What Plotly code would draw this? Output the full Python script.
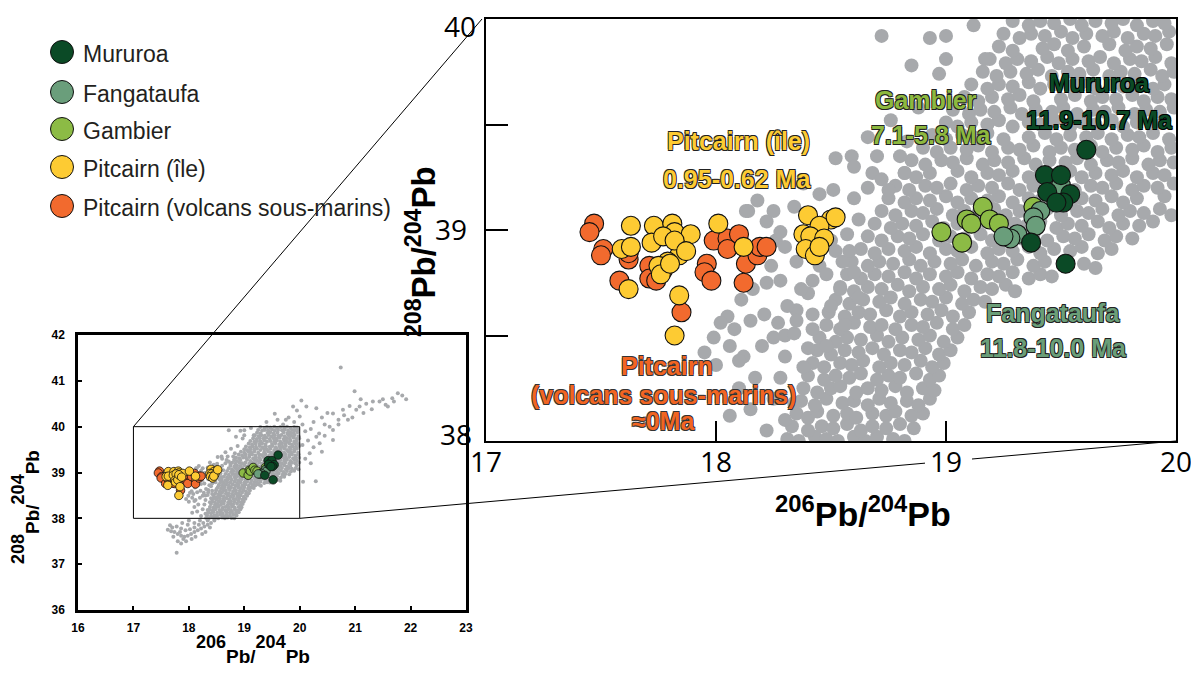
import plotly.graph_objects as go

# The page body has an 8px margin: the figure is drawn 8px smaller and all
# pixel positions below are given in screenshot pixels.
OFF = 8
W, H = 1199 - OFF, 674 - OFF

# ---------------- data ----------------
group_names = ["Mururoa", "Fangataufa", "Gambier", "Pitcairn (île)", "Pitcairn (volcans sous-marins)"]
group_colors = ["#0B4A26", "#6A9E7B", "#8CBB45", "#FDCB33", "#F26A2E"]

mururoa_x = [19.61, 19.43, 19.50, 19.44, 19.54, 19.51, 19.48, 19.37, 19.52]
mururoa_y = [39.38, 39.26, 39.26, 39.18, 39.17, 39.13, 39.13, 38.94, 38.84]

fanga_x = [19.50, 19.41, 19.38, 19.39, 19.31, 19.28, 19.25]
fanga_y = [39.21, 39.09, 39.06, 39.02, 38.98, 38.96, 38.97]

gambier_x = [18.98, 19.07, 19.09, 19.11, 19.16, 19.19, 19.23, 19.38]
gambier_y = [38.99, 38.94, 39.05, 39.03, 39.11, 39.05, 39.03, 39.11]

ile_x = [17.63, 17.59, 17.63, 17.62, 17.73, 17.72, 17.81, 17.82, 17.77, 17.85, 17.89, 17.84,
         17.79, 17.75, 17.76, 17.80, 17.82, 17.87, 18.01, 18.12, 17.84, 17.82, 18.40, 18.50,
         18.45, 18.38, 18.41, 18.47, 18.39, 18.43, 18.45, 18.52]
ile_y = [39.02, 38.91, 38.92, 38.72, 39.02, 38.94, 39.03, 38.99, 38.97, 38.92, 38.98, 38.88,
         38.85, 38.83, 38.79, 38.84, 38.95, 38.90, 39.03, 38.92, 38.69, 38.50, 39.07, 39.05,
         39.02, 38.98, 38.97, 38.96, 38.91, 38.88, 38.92, 39.06]

volc_x = [17.47, 17.45, 17.51, 17.50, 17.58, 17.62, 17.71, 17.71, 17.77, 17.96, 17.95, 17.98,
          17.99, 18.05, 18.05, 18.10, 18.13, 18.12, 18.18, 18.19, 18.22, 17.85, 17.62, 17.74]
volc_y = [39.03, 38.99, 38.91, 38.88, 38.76, 38.86, 38.83, 38.77, 38.81, 38.84, 38.80, 38.76,
          38.95, 38.96, 38.91, 38.98, 38.84, 38.75, 38.88, 38.92, 38.92, 38.61, 38.89, 38.76]

# background (grey) compilation of oceanic basalts
gray_points = [
    (18.31,38.01),(18.36,38.0),(18.43,38.02),(18.48,38.01),(18.53,38.0),(18.60,38.02),(18.65,38.0),(18.70,38.02),(18.77,38.01),(18.82,38.0),
    (18.33,38.07),(18.40,38.05),(18.46,38.07),(18.51,38.06),(18.57,38.08),(18.63,38.05),(18.68,38.07),(18.74,38.06),(18.80,38.08),(18.86,38.06),
    (18.35,38.13),(18.40,38.11),(18.44,38.14),(18.51,38.12),(18.57,38.13),(18.61,38.11),(18.68,38.13),(18.74,38.12),(18.78,38.14),(18.85,38.12),(18.90,38.13),
    (18.37,38.19),(18.43,38.17),(18.48,38.2),(18.55,38.18),(18.60,38.19),(18.66,38.17),(18.71,38.2),(18.76,38.18),(18.83,38.19),(18.88,38.17),(18.93,38.2),
    (18.38,38.25),(18.44,38.23),(18.50,38.25),(18.54,38.26),(18.61,38.23),(18.66,38.25),(18.72,38.24),(18.78,38.26),(18.83,38.23),(18.90,38.25),(18.95,38.24),
    (18.40,38.31),(18.47,38.29),(18.52,38.31),(18.58,38.3),(18.63,38.32),(18.70,38.29),(18.75,38.31),(18.80,38.3),(18.87,38.32),(18.93,38.29),(18.97,38.31),
    (18.42,38.37),(18.47,38.35),(18.54,38.37),(18.59,38.36),(18.64,38.38),(18.71,38.35),(18.76,38.37),(18.82,38.36),(18.89,38.38),(18.94,38.35),(18.99,38.37),
    (18.44,38.43),(18.50,38.41),(18.56,38.43),(18.62,38.42),(18.68,38.44),(18.73,38.41),(18.80,38.43),(18.85,38.42),(18.91,38.44),(18.97,38.41),(19.02,38.43),
    (18.45,38.49),(18.52,38.47),(18.57,38.49),(18.63,38.48),(18.70,38.5),(18.75,38.47),(18.81,38.49),(18.88,38.48),(18.93,38.5),(18.99,38.47),(19.05,38.49),
    (18.48,38.55),(18.54,38.53),(18.60,38.56),(18.67,38.54),(18.72,38.55),(18.78,38.53),(18.85,38.55),(18.90,38.54),(18.96,38.56),(19.03,38.53),(19.08,38.55),
    (18.49,38.61),(18.56,38.59),(18.62,38.61),(18.67,38.6),(18.74,38.62),(18.80,38.59),(18.85,38.61),(18.92,38.6),(18.98,38.62),(19.03,38.59),(19.10,38.61),
    (18.52,38.67),(18.58,38.65),(18.64,38.67),(18.71,38.66),(18.76,38.68),(18.82,38.65),(18.89,38.67),(18.94,38.66),(19.00,38.68),(19.07,38.65),(19.12,38.67),(19.17,38.66),
    (18.54,38.73),(18.60,38.71),(18.66,38.73),(18.72,38.72),(18.79,38.74),(18.84,38.71),(18.90,38.73),(18.97,38.72),(19.02,38.74),(19.08,38.71),(19.15,38.73),(19.20,38.72),(19.26,38.74),(19.30,38.71),
    (18.57,38.79),(18.63,38.77),(18.69,38.79),(18.75,38.78),(18.82,38.8),(18.87,38.77),(18.93,38.79),(19.00,38.78),(19.05,38.8),(19.11,38.77),(19.18,38.79),(19.23,38.78),(19.29,38.8),(19.36,38.77),(19.41,38.79),(19.46,38.78),
    (18.59,38.85),(18.66,38.83),(18.71,38.85),(18.77,38.84),(18.84,38.86),(18.89,38.83),(18.95,38.85),(19.02,38.84),(19.07,38.86),(19.13,38.83),(19.20,38.85),(19.25,38.84),(19.31,38.86),(19.38,38.83),(19.43,38.85),(19.60,38.84),(19.65,38.82),
    (18.63,38.91),(18.69,38.89),(18.75,38.91),(18.82,38.9),(18.87,38.92),(18.93,38.89),(19.00,38.91),(19.05,38.9),(19.11,38.92),(19.18,38.89),(19.23,38.91),(19.29,38.9),(19.36,38.92),(19.41,38.89),(19.47,38.91),(19.54,38.9),(19.59,38.92),(19.66,38.89),(19.72,38.91),
    (18.66,38.97),(18.72,38.95),(18.79,38.97),(18.84,38.96),(18.90,38.98),(18.97,38.95),(19.02,38.97),(19.08,38.96),(19.15,38.98),(19.20,38.95),(19.26,38.97),(19.33,38.96),(19.38,38.98),(19.44,38.95),(19.51,38.97),(19.56,38.96),(19.62,38.98),(19.69,38.95),(19.74,38.97),(19.81,38.96),
    (18.69,39.03),(18.76,39.01),(18.81,39.03),(18.87,39.02),(18.94,39.04),(18.99,39.01),(19.05,39.03),(19.12,39.02),(19.17,39.04),(19.23,39.01),(19.30,39.03),(19.35,39.02),(19.41,39.04),(19.48,39.01),(19.53,39.03),(19.59,39.02),(19.66,39.04),(19.71,39.01),(19.77,39.03),(19.84,39.02),(19.90,39.04),
    (18.72,39.09),(18.78,39.07),(18.85,39.09),(18.90,39.08),(18.96,39.1),(19.03,39.07),(19.08,39.09),(19.14,39.08),(19.21,39.1),(19.26,39.07),(19.32,39.09),(19.39,39.08),(19.44,39.1),(19.50,39.07),(19.57,39.09),(19.62,39.08),(19.68,39.1),(19.75,39.07),(19.80,39.09),(19.86,39.08),(19.93,39.1),(19.98,39.07),
    (18.75,39.15),(18.82,39.13),(18.87,39.15),(18.93,39.14),(19.00,39.16),(19.05,39.13),(19.11,39.15),(19.18,39.14),(19.23,39.16),(19.29,39.13),(19.36,39.15),(19.41,39.14),(19.47,39.16),(19.54,39.13),(19.59,39.15),(19.65,39.14),(19.72,39.16),(19.77,39.13),(19.83,39.15),(19.95,39.16),
    (18.78,39.21),(18.84,39.19),(18.91,39.21),(18.96,39.2),(19.02,39.22),(19.09,39.19),(19.14,39.21),(19.20,39.2),(19.27,39.22),(19.32,39.19),(19.38,39.21),(19.45,39.2),(19.50,39.22),(19.56,39.19),(19.63,39.21),(19.68,39.2),(19.74,39.22),(19.81,39.19),(19.86,39.21),(19.92,39.2),(19.99,39.22),
    (18.82,39.27),(18.87,39.25),(18.93,39.27),(19.05,39.28),(19.11,39.25),(19.18,39.27),(19.23,39.26),(19.29,39.28),(19.36,39.25),(19.41,39.27),(19.47,39.26),(19.54,39.28),(19.59,39.25),(19.65,39.27),(19.72,39.26),(19.77,39.28),(19.83,39.25),(19.90,39.27),(19.95,39.26),
    (18.85,39.33),(18.91,39.31),(18.98,39.33),(19.03,39.32),(19.09,39.34),(19.16,39.31),(19.21,39.33),(19.27,39.32),(19.34,39.34),(19.39,39.31),(19.45,39.33),(19.52,39.32),(19.57,39.34),(19.63,39.31),(19.70,39.33),(19.75,39.32),(19.81,39.34),(19.88,39.31),(19.93,39.33),(19.99,39.32),
    (18.90,39.39),(18.96,39.37),(19.02,39.39),(19.09,39.38),(19.14,39.4),(19.20,39.37),(19.27,39.39),(19.32,39.38),(19.38,39.4),(19.45,39.37),(19.50,39.39),(19.56,39.38),(19.63,39.4),(19.68,39.37),(19.74,39.39),(19.81,39.38),(19.86,39.4),(19.92,39.37),(19.98,39.39),
    (18.94,39.45),(19.00,39.43),(19.07,39.45),(19.12,39.44),(19.18,39.46),(19.25,39.43),(19.36,39.44),(19.43,39.46),(19.48,39.43),(19.54,39.45),(19.61,39.44),(19.66,39.46),(19.72,39.43),(19.79,39.45),(19.84,39.44),(19.90,39.46),(19.97,39.43),
    (19.00,39.51),(19.05,39.49),(19.11,39.51),(19.18,39.5),(19.23,39.52),(19.29,39.49),(19.36,39.51),(19.41,39.5),(19.47,39.52),(19.54,39.49),(19.59,39.51),(19.65,39.5),(19.72,39.52),(19.77,39.49),(19.83,39.51),(19.90,39.5),(19.95,39.52),
    (19.03,39.57),(19.10,39.55),(19.15,39.57),(19.21,39.56),(19.28,39.58),(19.33,39.55),(19.39,39.57),(19.46,39.56),(19.51,39.58),(19.57,39.55),(19.64,39.57),(19.69,39.56),(19.75,39.58),(19.82,39.55),(19.87,39.57),(19.93,39.56),(19.99,39.58),
    (19.08,39.63),(19.14,39.61),(19.20,39.63),(19.27,39.62),(19.32,39.64),(19.38,39.61),(19.50,39.62),(19.56,39.64),(19.63,39.61),(19.68,39.63),(19.74,39.62),(19.81,39.64),(19.86,39.61),(19.92,39.63),(19.98,39.62),
    (19.11,39.69),(19.18,39.67),(19.23,39.69),(19.29,39.68),(19.36,39.7),(19.41,39.67),(19.47,39.69),(19.54,39.68),(19.59,39.7),(19.65,39.67),(19.72,39.69),(19.77,39.68),(19.83,39.7),(19.90,39.67),(19.95,39.69),
    (19.16,39.75),(19.22,39.73),(19.28,39.75),(19.35,39.74),(19.40,39.76),(19.46,39.73),(19.53,39.75),(19.58,39.74),(19.64,39.76),(19.71,39.73),(19.76,39.75),(19.82,39.74),(19.89,39.76),(19.94,39.73),(19.99,39.75),
    (19.19,39.81),(19.26,39.79),(19.31,39.81),(19.37,39.8),(19.44,39.82),(19.49,39.79),(19.55,39.81),(19.62,39.8),(19.67,39.82),(19.73,39.79),(19.80,39.81),(19.85,39.8),(19.91,39.82),(19.98,39.79),
    (19.23,39.87),(19.29,39.85),(19.42,39.86),(19.47,39.88),(19.53,39.85),(19.60,39.87),(19.71,39.88),(19.78,39.85),(19.83,39.87),(19.89,39.86),(19.96,39.88),
    (19.25,39.93),(19.32,39.91),(19.37,39.93),(19.43,39.92),(19.50,39.94),(19.55,39.91),(19.61,39.93),(19.68,39.92),(19.73,39.94),(19.79,39.91),(19.86,39.93),(19.91,39.92),(19.97,39.94),
    (19.29,39.99),(19.36,39.97),(19.41,39.99),(19.47,39.98),(19.54,40.0),(19.59,39.97),(19.65,39.99),(19.72,39.98),(19.77,40.0),(19.83,39.97),(19.90,39.99),(19.95,39.98),
    # scattered, upper-left of the main array
    (18.52,39.34),(18.59,39.35),(18.60,39.30),(18.68,39.27),(18.72,39.24),(18.75,39.19),(18.82,39.27),(18.14,39.09),
    (18.26,38.95),(18.72,39.92),(18.93,39.91),(19.00,39.92),(19.12,39.97),(19.00,39.81),(19.17,39.81),(18.97,39.74),
    (18.85,39.78),(18.76,39.52),(18.83,39.42),(18.70,39.35),(18.66,39.20),(18.60,39.15),(18.62,39.05),(18.57,38.98),
    (18.52,38.90),(18.45,38.83),(18.40,38.70),(18.35,38.62),(18.30,38.50),(18.66,39.44),(18.88,39.58),(18.80,39.35),
    (18.13,39.09),(18.22,39.04),(18.25,39.09),(18.28,38.99),(18.34,39.11),(18.51,39.19),(18.45,39.17),(18.24,38.83),
    (18.22,38.75),(18.28,38.76),(18.16,38.72),(18.11,38.67),(18.05,38.59),(18.02,38.56),(17.99,38.49),(18.08,38.53),
    (18.15,38.57),(18.21,38.60),(18.27,38.56),(18.31,38.64),(18.37,38.72),(18.42,38.76),(18.48,38.79),(18.35,38.57),
    (18.42,38.60),(18.50,38.64),(18.54,38.72),(18.42,38.53),(18.34,38.51),(18.25,38.49),(18.35,38.85),(18.40,38.90),
    (18.55,38.85),(18.60,38.80),(18.50,38.95),(18.58,38.90),(18.30,38.92),(18.62,38.68),(18.56,38.55),(18.48,38.45),
    (18.40,38.44),(18.30,38.40),(18.20,38.45),(18.12,38.40),(18.38,38.35),(18.28,38.30),(18.34,38.18),(18.25,38.20),
    (18.30,38.10),(18.22,38.05),(18.17,38.30),(18.10,38.25),(18.06,38.12),(18.15,38.15),(18.16,38.88),(18.04,38.95),
    (18.18,39.14),(18.38,39.22),(17.95,38.42),(18.00,38.36),(18.06,38.45),(18.10,38.38),
    # lower tail (below 38)
    (17.62,37.75),(17.68,37.72),(17.74,37.7),(17.8,37.66),(17.86,37.62),(17.92,37.6),(17.98,37.62),(18.04,37.66),
    (18.1,37.7),(18.16,37.74),(18.22,37.78),(18.28,37.82),(18.34,37.86),(18.4,37.9),(18.46,37.95),(17.7,37.8),
    (17.78,37.82),(17.86,37.78),(17.94,37.74),(18.02,37.76),(18.1,37.8),(18.18,37.86),(18.26,37.9),(18.34,37.95),
    (18.2,37.95),(18.1,37.9),(17.98,37.86),(17.88,37.9),(17.8,37.5),(17.86,37.45),(17.95,37.5),(18.05,37.55),
    (17.9,37.55),(18.12,37.6),(17.78,37.25),(17.66,37.85),(18.0,37.95),(18.3,37.7),(17.72,37.6),(17.84,37.7),
    (18.24,37.66),(18.38,37.8),
    # beyond 20 / above 40
    (20.0,40.22),(20.6,40.29),(21.08,40.44),(21.44,40.55),(21.67,40.62),(21.92,40.6),(20.3,39.78),(20.6,39.93),
    (20.18,39.42),(20.29,38.81),(20.06,38.8),(20.99,40.77),(20.74,41.29),(20.03,40.57),(20.12,40.44),(21.77,40.73),
    (21.59,40.44),(21.32,40.55),(20.78,40.37),(21.02,40.37),(20.87,40.15),(20.54,40.0),(20.6,39.71),(20.36,39.64),
    (19.55,40.28),(19.88,40.44),(19.8,40.2),(19.9,40.1),(20.05,40.05),(20.1,39.9),(20.2,39.95),(20.25,40.1),
    (20.4,40.2),(20.45,40.05),(20.5,40.3),(20.7,40.15),(20.8,40.25),(20.9,40.45),(21.15,40.3),(21.2,40.5),
    (21.3,40.38),(21.5,40.6),(21.55,40.48),(21.7,40.55),(21.85,40.68),(20.15,39.7),(20.25,39.55),(20.05,39.6),
    (20.1,39.3),(20.2,39.2),(20.35,39.85),(20.45,39.8),(20.7,40.05),(20.95,40.2),(21.1,40.6),(20.3,40.4),
    (19.95,40.35),(19.7,40.05),(19.75,40.15),(20.4,39.45),(19.4,40.1),(19.6,40.15),
]
gray_x = [p[0] for p in gray_points]
gray_y = [p[1] for p in gray_points]

small_xticks = [16, 17, 18, 19, 20, 21, 22, 23]
small_yticks = [36, 37, 38, 39, 40, 41, 42]
big_xticks = [17, 18, 19, 20]
big_yticks = [38, 38.5, 39, 39.5, 40]
big_ylabels = [38, 39, 40]

# ---------------- geometry (screenshot pixels) ----------------
SMALL = dict(l=78, r=466, t=335, b=610, xr=(16, 23), yr=(36, 42))
BIG = dict(l=486, r=1176, t=19, b=441, xr=(17, 20), yr=(38, 40))


def P(px, py):
    return (px - OFF) / W, 1 - (py - OFF) / H


def dom(ax):
    return [P(ax["l"], 0)[0], P(ax["r"], 0)[0]], [P(0, ax["b"])[1], P(0, ax["t"])[1]]


def data_px(ax, x, y):
    px = ax["l"] + (x - ax["xr"][0]) / (ax["xr"][1] - ax["xr"][0]) * (ax["r"] - ax["l"])
    py = ax["b"] - (y - ax["yr"][0]) / (ax["yr"][1] - ax["yr"][0]) * (ax["b"] - ax["t"])
    return px, py


fig = go.Figure()

GRAY = "#A7A9AC"
series = [
    (volc_x, volc_y, group_colors[4]),
    (ile_x, ile_y, group_colors[3]),
    (gambier_x, gambier_y, group_colors[2]),
    (fanga_x, fanga_y, group_colors[1]),
    (mururoa_x, mururoa_y, group_colors[0]),
]

for xa, ya, gsize, csize, clw in [("x", "y", 4, 8.5, 0.8), ("x2", "y2", 14, 19, 1.1)]:
    fig.add_trace(go.Scatter(x=gray_x, y=gray_y, mode="markers", xaxis=xa, yaxis=ya,
                             marker=dict(size=gsize, color=GRAY, line=dict(width=0)),
                             showlegend=False, hoverinfo="skip"))
    for sx, sy, col in series:
        fig.add_trace(go.Scatter(x=sx, y=sy, mode="markers", xaxis=xa, yaxis=ya,
                                 marker=dict(size=csize, color=col, line=dict(width=clw, color="#111")),
                                 showlegend=False))

ARIAL = "Liberation Sans, Arial, sans-serif"
TICKFONT_BIG = dict(family="Open Sans, sans-serif", size=28, color="black")

common_axis = dict(showgrid=False, zeroline=False, showline=True, mirror=True, linecolor="black",
                   automargin=False, tickcolor="black", ticks="inside", ticklabeloverflow="allow")
sx_dom, sy_dom = dom(SMALL)
bx_dom, by_dom = dom(BIG)
fig.update_layout(
    template="none",
    width=W, height=H, autosize=False,
    margin=dict(l=0, r=0, t=0, b=0, pad=0),
    paper_bgcolor="white", plot_bgcolor="white",
    showlegend=False,
    xaxis=dict(domain=sx_dom, range=list(SMALL["xr"]), anchor="y",
               linewidth=2.5, ticklen=4, tickwidth=1.5, tickvals=small_xticks,
               tickfont=dict(family=ARIAL, size=12, color="black", weight="bold"), ticklabelstandoff=5,
               **common_axis),
    yaxis=dict(domain=sy_dom, range=list(SMALL["yr"]), anchor="x",
               linewidth=2.5, ticklen=4, tickwidth=1.5, tickvals=small_yticks,
               tickfont=dict(family=ARIAL, size=12, color="black", weight="bold"), ticklabelstandoff=8,
               **common_axis),
    xaxis2=dict(domain=bx_dom, range=list(BIG["xr"]), anchor="y2",
                linewidth=1.5, ticklen=20, tickwidth=2, tickvals=big_xticks,
                tickfont=TICKFONT_BIG, ticklabelstandoff=-4,
                **common_axis),
    yaxis2=dict(domain=by_dom, range=list(BIG["yr"]), anchor="x2",
                linewidth=1.5, ticklen=22, tickwidth=2, tickvals=big_yticks, showticklabels=False,
                **common_axis),
)

shapes = []
# inset rectangle on the small plot
shapes.append(dict(type="rect", xref="x", yref="y", x0=BIG["xr"][0], x1=BIG["xr"][1],
                   y0=BIG["yr"][0], y1=BIG["yr"][1], line=dict(color="black", width=1)))
# connector lines
a0 = data_px(SMALL, BIG["xr"][0], BIG["yr"][1])
a1 = data_px(BIG, BIG["xr"][0], BIG["yr"][1])
b0 = data_px(SMALL, BIG["xr"][1], BIG["yr"][0])
b1 = data_px(BIG, BIG["xr"][1], BIG["yr"][0])
pa0, pa1 = P(*a0), P(a1[0] - 4, a1[1])
shapes.append(dict(type="line", xref="paper", yref="paper", x0=pa0[0], y0=pa0[1],
                   x1=pa1[0], y1=pa1[1], line=dict(color="black", width=1)))
# line b with a gap around the "19" tick label
g0, g1 = 925, 972


def on_b(px):
    t = (px - b0[0]) / (b1[0] - b0[0])
    return px, b0[1] + t * (b1[1] - b0[1])


for s, e in [(b0, on_b(g0)), (on_b(g1), b1)]:
    ps, pe = P(*s), P(*e)
    shapes.append(dict(type="line", xref="paper", yref="paper", x0=ps[0], y0=ps[1],
                       x1=pe[0], y1=pe[1], line=dict(color="black", width=1)))

# legend symbols
leg_cy = [52, 92, 129, 167, 206]
for cy, col in zip(leg_cy, group_colors):
    x0, y0 = P(62 - 11.5, cy + 11.5)
    x1, y1 = P(62 + 11.5, cy - 11.5)
    shapes.append(dict(type="circle", xref="paper", yref="paper", x0=x0, y0=y0, x1=x1, y1=y1,
                       fillcolor=col, line=dict(color="#111", width=1)))
fig.update_layout(shapes=shapes)

ann = []
for cy, name in zip(leg_cy, group_names):
    x, y = P(81, cy + 2)
    ann.append(dict(x=x, y=y, xref="paper", yref="paper", text=name, showarrow=False,
                    xanchor="left", yanchor="middle",
                    font=dict(family=ARIAL, size=23, color="#231F20")))

# y tick labels of the enlarged plot (placed like the original: right edge px, vertical shift px)
ylab_pos = {38: (474, 7), 39: (469, 1), 40: (478, -7)}
for v in big_ylabels:
    rx, dy = ylab_pos[v]
    ann.append(dict(x=P(rx, 0)[0], y=v, xref="paper", yref="y2", text=str(v), showarrow=False,
                    xanchor="right", yanchor="middle", yshift=dy,
                    font=TICKFONT_BIG))


def outline(c):
    d = 0.8
    return f"{d}px {d}px 0 {c}, -{d}px -{d}px 0 {c}, {d}px -{d}px 0 {c}, -{d}px {d}px 0 {c}"


labels = [
    ("Pitcairn (île)", 738, 141, group_colors[3], "#222"),
    ("0.95-0.62 Ma", 737, 179, group_colors[3], "#222"),
    ("Gambier", 926, 100, "#8DB83F", "#222"),
    ("7.1-5.8 Ma", 931, 135, "#8DB83F", "#222"),
    ("Mururoa", 1099, 83, "#0B4A26", "#000"),
    ("11.9-10.7 Ma", 1099, 120, "#0B4A26", "#000"),
    ("Fangataufa", 1053, 313, "#6A9E78", "#222"),
    ("11.8-10.0 Ma", 1053, 348, "#6A9E78", "#222"),
    ("Pitcairn", 667, 366, "#F26522", "#333"),
    ("(volcans sous-marins)", 663, 395, "#F26522", "#333"),
    ("≈0Ma", 663, 421, "#F26522", "#333"),
]
for txt, px, py, col, oc in labels:
    x, y = P(px, py)
    ann.append(dict(x=x, y=y, xref="paper", yref="paper", text=txt, showarrow=False,
                    xanchor="center", yanchor="middle",
                    font=dict(family=ARIAL, size=25, color=col, weight="bold", shadow=outline(oc))))

# axis titles
small_title_x = ("<sup><span style='font-size:18px'>206</span></sup><span style='font-size:19px'>Pb/</span>"
                 "<sup><span style='font-size:18px'>204</span></sup><span style='font-size:19px'>Pb</span>")
small_title_y = ("<sup><span style='font-size:18px'>208</span></sup><span style='font-size:19px'>Pb/</span>"
                 "<sup><span style='font-size:18px'>204</span></sup><span style='font-size:19px'>Pb</span>")
x, y = P(253, 649)
ann.append(dict(x=x, y=y, xref="paper", yref="paper", text=small_title_x, showarrow=False,
                xanchor="center", yanchor="middle",
                font=dict(family=ARIAL, size=36, color="black", weight="bold")))
x, y = P(25, 507)
ann.append(dict(x=x, y=y, xref="paper", yref="paper", text=small_title_y, showarrow=False,
                xanchor="center", yanchor="middle", textangle=-90,
                font=dict(family=ARIAL, size=36, color="black", weight="bold")))
x, y = P(863, 511)
ann.append(dict(x=x, y=y, xref="paper", yref="paper", text="<sup>206</sup>Pb/<sup>204</sup>Pb", showarrow=False,
                xanchor="center", yanchor="middle",
                font=dict(family=ARIAL, size=34, color="black", weight="bold")))
x, y = P(421, 252)
ann.append(dict(x=x, y=y, xref="paper", yref="paper", text="<sup>208</sup>Pb/<sup>204</sup>Pb", showarrow=False,
                xanchor="center", yanchor="middle", textangle=-90,
                font=dict(family=ARIAL, size=33, color="black", weight="bold")))

fig.update_layout(annotations=ann)
fig.write_html("out.html")
